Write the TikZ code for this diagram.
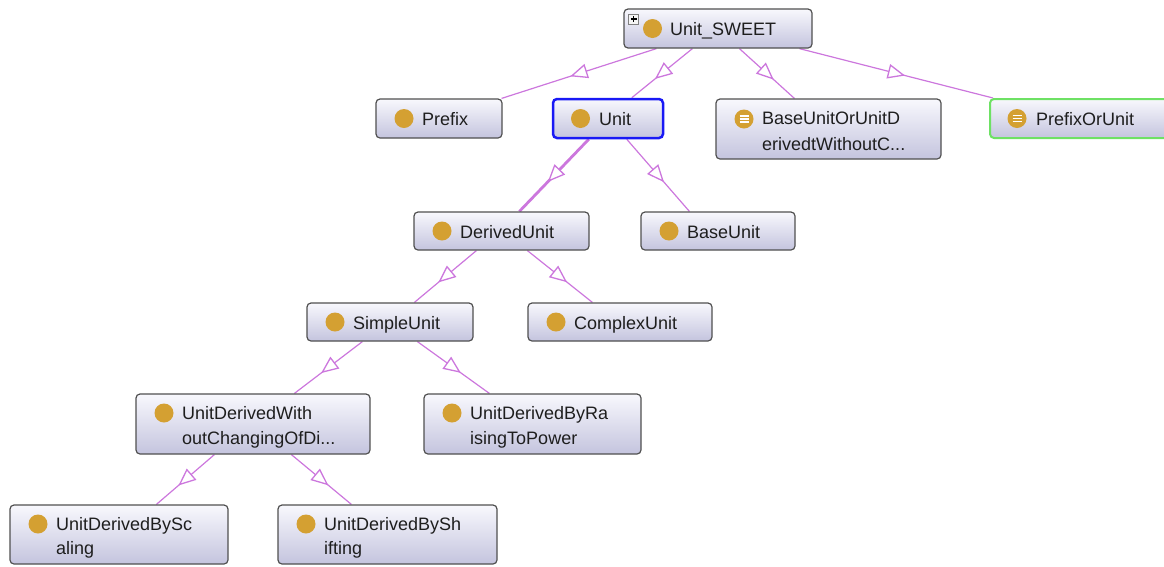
\documentclass[tikz,border=0pt]{standalone}
\usepackage{fontspec}
\setmainfont{Liberation Sans}
\usetikzlibrary{decorations.markings,backgrounds}
\definecolor{edgecol}{RGB}{204,119,221}
\definecolor{gold}{RGB}{212,160,50}
\definecolor{boxtop}{RGB}{248,248,253}
\definecolor{boxbot}{RGB}{196,196,222}
\definecolor{boxline}{RGB}{80,80,80}
\definecolor{selblue}{RGB}{25,25,245}
\definecolor{selgreen}{RGB}{110,225,100}
\definecolor{txt}{RGB}{30,30,30}
\tikzset{
  cls/.style={draw=boxline, line width=1.2pt, rounded corners=4pt,
    top color=boxtop, bottom color=boxbot, inner sep=0pt},
  dot/.style={circle, fill=gold, minimum size=19pt, inner sep=0pt},
  lbl/.style={anchor=base west, inner sep=0pt, text=txt,
    font=\fontsize{18pt}{22pt}\selectfont},
  eqline/.style={white, line width=1.4pt},
  edge/.style={draw=edgecol, line width=1.2pt, postaction={decorate},
    decoration={markings, mark=at position 0.5 with
      {\draw[edgecol, fill=white, line width=1.3pt, line join=miter]
        (7.5pt,0pt) -- (-7.5pt,6.5pt) -- (-7.5pt,-6.5pt) -- cycle;}}},
}
\begin{document}
\begin{tikzpicture}[x=1pt,y=-1pt]
\clip (0,0) rectangle (1164,566);

% boxes
\node[cls, minimum width=188pt, minimum height=39pt] (sweet) at (718,28.5) {};
\node[dot] (sweet-i) at (652.5,28.5) {};
\node[lbl] (sweet-t) at (670,35) {Unit\_SWEET};
\node[draw=gray, fill=white!92!gray, line width=0.8pt, minimum size=10pt, inner sep=0pt] (plus) at (633.5,19) {};
\draw[line width=1.2pt] ([xshift=-3pt]plus.center) -- ([xshift=3pt]plus.center);
\draw[line width=1.2pt] ([yshift=-3pt]plus.center) -- ([yshift=3pt]plus.center);

\node[cls, minimum width=126pt, minimum height=39pt] (prefix) at (439,118.5) {};
\node[dot] (prefix-i) at (404,118.5) {};
\node[lbl] (prefix-t) at (422,125) {Prefix};

\node[cls, draw=selblue, line width=2.5pt, minimum width=110pt, minimum height=39pt] (unit) at (608,118.5) {};
\node[dot] (unit-i) at (580.5,118.5) {};
\node[lbl] (unit-t) at (599,125) {Unit};

\node[cls, minimum width=225pt, minimum height=60pt] (baseu) at (828.5,129) {};
\node[dot] (baseu-i) at (744,119) {};
\draw[eqline] ([shift={(-4.5pt,-3pt)}]baseu-i.center) -- ++(9,0);
\draw[eqline] ([shift={(-4.5pt,0pt)}]baseu-i.center) -- ++(9,0);
\draw[eqline] ([shift={(-4.5pt,3pt)}]baseu-i.center) -- ++(9,0);
\node[lbl] (baseu-t1) at (762,124) {BaseUnitOrUnitD};
\node[lbl] (baseu-t2) at (762,150) {erivedtWithoutC...};

\node[cls, draw=selgreen, line width=2pt, minimum width=190pt, minimum height=39pt] (prefixor) at (1085,118.5) {};
\node[dot] (prefixor-i) at (1017,118.5) {};
\draw[eqline] ([shift={(-4.5pt,-3pt)}]prefixor-i.center) -- ++(9,0);
\draw[eqline] ([shift={(-4.5pt,0pt)}]prefixor-i.center) -- ++(9,0);
\draw[eqline] ([shift={(-4.5pt,3pt)}]prefixor-i.center) -- ++(9,0);
\node[lbl] (prefixor-t) at (1036,125) {PrefixOrUnit};

\node[cls, minimum width=175pt, minimum height=38pt] (derived) at (501.5,231) {};
\node[dot] (derived-i) at (442,231) {};
\node[lbl] (derived-t) at (460,238) {DerivedUnit};

\node[cls, minimum width=154pt, minimum height=38pt] (baseunit) at (718,231) {};
\node[dot] (baseunit-i) at (669,231) {};
\node[lbl] (baseunit-t) at (687,238) {BaseUnit};

\node[cls, minimum width=166pt, minimum height=38pt] (simple) at (390,322) {};
\node[dot] (simple-i) at (335,322) {};
\node[lbl] (simple-t) at (353,329) {SimpleUnit};

\node[cls, minimum width=184pt, minimum height=38pt] (complex) at (620,322) {};
\node[dot] (complex-i) at (556,322) {};
\node[lbl] (complex-t) at (574,329) {ComplexUnit};

\node[cls, minimum width=234pt, minimum height=60pt] (udwith) at (253,424) {};
\node[dot] (udwith-i) at (164,413) {};
\node[lbl] (udwith-t1) at (182,419) {UnitDerivedWith};
\node[lbl] (udwith-t2) at (182,444) {outChangingOfDi...};

\node[cls, minimum width=217pt, minimum height=60pt] (udraise) at (532.5,424) {};
\node[dot] (udraise-i) at (452,413) {};
\node[lbl] (udraise-t1) at (470,419) {UnitDerivedByRa};
\node[lbl] (udraise-t2) at (470,444) {isingToPower};

\node[cls, minimum width=218pt, minimum height=59pt] (udscale) at (119,534.5) {};
\node[dot] (udscale-i) at (38,524) {};
\node[lbl] (udscale-t1) at (56,530) {UnitDerivedBySc};
\node[lbl] (udscale-t2) at (56,554) {aling};

\node[cls, minimum width=219pt, minimum height=59pt] (udshift) at (387.5,534.5) {};
\node[dot] (udshift-i) at (306,524) {};
\node[lbl] (udshift-t1) at (324,530) {UnitDerivedBySh};
\node[lbl] (udshift-t2) at (324,554) {ifting};

% edges
\begin{scope}[on background layer]
\draw[edge] ([xshift=33pt]sweet.south west) -- ([xshift=-1pt]prefix.north east);
\draw[edge] ([xshift=69pt]sweet.south west) -- ([xshift=80pt]unit.north west);
\draw[edge] ([xshift=116pt]sweet.south west) -- ([xshift=79pt]baseu.north west);
\draw[edge] ([xshift=176pt]sweet.south west) -- ([xshift=4pt]prefixor.north west);
\draw[edge, line width=2.8pt] ([xshift=37pt]unit.south west) -- ([xshift=106pt]derived.north west);
\draw[edge] ([xshift=75pt]unit.south west) -- ([xshift=49pt]baseunit.north west);
\draw[edge] ([xshift=63pt]derived.south west) -- ([xshift=108pt]simple.north west);
\draw[edge] ([xshift=114pt]derived.south west) -- ([xshift=65pt]complex.north west);
\draw[edge] ([xshift=56pt]simple.south west) -- ([xshift=159pt]udwith.north west);
\draw[edge] ([xshift=111pt]simple.south west) -- ([xshift=66pt]udraise.north west);
\draw[edge] ([xshift=79pt]udwith.south west) -- ([xshift=147pt]udscale.north west);
\draw[edge] ([xshift=156pt]udwith.south west) -- ([xshift=74pt]udshift.north west);
\end{scope}
\end{tikzpicture}
\end{document}
